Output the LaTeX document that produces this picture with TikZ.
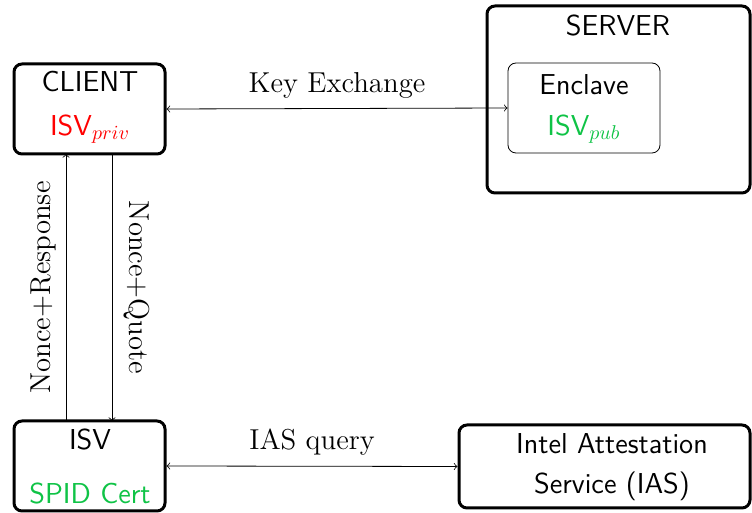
\documentclass[tikz,border=0pt]{standalone}
\usepackage{xcolor}
\definecolor{isvred}{RGB}{255,0,0}
\definecolor{isvgreen}{RGB}{15,195,70}
\begin{document}
\begin{tikzpicture}[x=0.5pt,y=-0.5pt,
  bigbox/.style={draw, line width=1.5pt, rounded corners=4pt},
  smallbox/.style={draw, line width=0.4pt, rounded corners=4pt},
  boxtext/.style={font=\sffamily\Large, inner sep=0pt},
  lbl/.style={font=\Large, inner sep=0pt},
  conn/.style={line width=0.4pt}]
\useasboundingbox (0,0) rectangle (752,513);
% boxes
\node[bigbox, minimum width=75.5pt, minimum height=45pt, inner sep=0pt] (client) at (89.5,109) {};
\node[bigbox, minimum width=131.5pt, minimum height=93.5pt, inner sep=0pt] (server) at (618.5,99.5) {};
\node[smallbox, minimum width=76pt, minimum height=45pt, inner sep=0pt] (enclave) at (584,108) {};
\node[bigbox, minimum width=75.5pt, minimum height=45pt, inner sep=0pt] (isv) at (89.5,466) {};
\node[bigbox, minimum width=145.5pt, minimum height=41.5pt, inner sep=0pt] (ias) at (604.5,466.5) {};
% texts
\node[boxtext] (clientt) at (90,82) {CLIENT};
\node[boxtext, text=isvred] (clientk) at (90,129) {ISV$_{priv}$};
\node[boxtext] (servert) at (618,26) {SERVER};
\node[boxtext] (enclavet) at (584,85) {Enclave};
\node[boxtext, text=isvgreen] (enclavek) at (584,129) {ISV$_{pub}$};
\node[boxtext] (isvt) at (90,440) {ISV};
\node[boxtext, text=isvgreen] (isvk) at (90,494) {SPID Cert};
\node[boxtext, align=center] (iast) at (612,467) {Intel Attestation\\[2pt]Service (IAS)};
% connectors
\draw[conn, <->] (client.east) -- (enclave.west) node[midway, above=5pt, lbl] (kx) {Key Exchange};
\draw[conn, <->] (isv.east) -- (ias.west) node[midway, above=5pt, lbl] (iq) {IAS query};
\coordinate (cu) at (66,154);
\coordinate (iu) at (66,421);
\coordinate (cd) at (112,154);
\coordinate (id) at (112,421);
\draw[conn, ->] (iu) -- (cu) node[midway, lbl, rotate=90, anchor=south, yshift=5pt] (nr) {Nonce+Response};
\draw[conn, ->] (cd) -- (id) node[midway, lbl, rotate=-90, anchor=south, yshift=6pt] (nq) {Nonce+Quote};
\end{tikzpicture}
\end{document}
